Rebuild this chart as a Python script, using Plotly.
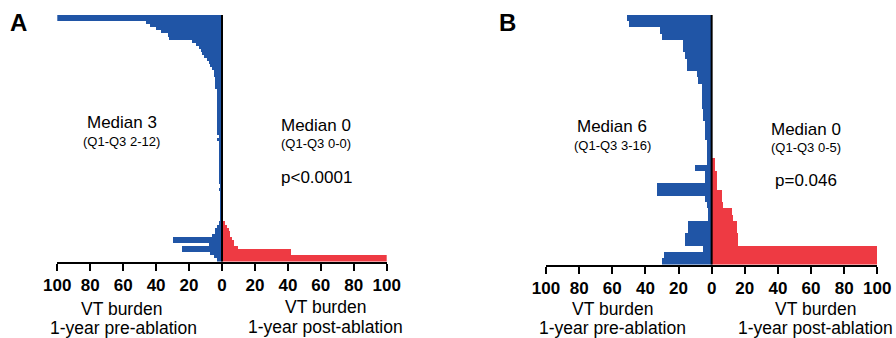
import plotly.graph_objects as go

# ---------------- DATA ----------------
# Panel A: one row per patient (top -> bottom), VT burden (%)
a_pre = [100, 100, 46, 44, 40, 37, 33, 32, 18, 16, 14, 13, 12, 11, 9, 8, 7, 6, 5, 5,
         4, 4, 4, 4, 3, 3, 3, 3, 3, 3, 3,
         3, 3, 3, 3, 3, 3, 3, 3, 2, 3, 2, 2, 2, 2, 2, 2, 2, 2, 2, 2, 2, 2, 2,
         2, 1, 2, 1, 1, 1, 1, 1, 1, 1, 1, 1, 1,
         2, 3, 4, 4, 6, 30, 30, 8, 24, 24, 7, 5, 3]
a_post = [0] * 67 + [2, 3, 4, 5, 5, 6, 7, 7, 10, 42, 42, 100, 100]

# Panel B
b_pre = [51, 50, 31, 30, 17, 17, 16, 15, 15, 9, 8, 6, 6, 6, 6, 5, 5, 4, 4, 4,
         3, 3, 3, 3, 10, 4, 4, 33, 33, 4, 3, 2, 2, 14, 14, 16, 16, 5, 29, 30]
b_post = [0] * 23 + [2, 2, 3, 3, 3, 6, 6, 7, 12, 13, 15, 15, 16, 16, 100, 100, 100]

tick_vals = [-100, -80, -60, -40, -20, 0, 20, 40, 60, 80, 100]
tick_text = ["100", "80", "60", "40", "20", "0", "20", "40", "60", "80", "100"]

BLUE = "#2055a6"
RED = "#ee3a43"
W, H = 896, 338


def px(x):
    return x / W


def py(y):
    return 1 - y / H


fig = go.Figure()

for pre, post, xa, ya in [(a_pre, a_post, "x", "y"), (b_pre, b_post, "x2", "y2")]:
    rows = list(range(len(pre)))
    fig.add_trace(go.Bar(y=rows, x=[-v for v in pre], orientation="h",
                         marker=dict(color=BLUE, line=dict(width=0)),
                         xaxis=xa, yaxis=ya, showlegend=False, hoverinfo="skip"))
    fig.add_trace(go.Bar(y=rows, x=post, orientation="h",
                         marker=dict(color=RED, line=dict(width=0)),
                         xaxis=xa, yaxis=ya, showlegend=False, hoverinfo="skip"))

xcommon = dict(range=[-100, 100], tickvals=tick_vals, ticktext=tick_text,
               showline=True, linecolor="black", linewidth=2,
               ticks="outside", ticklen=7, tickwidth=2, tickcolor="black",
               showgrid=False, zeroline=False, fixedrange=True, automargin=False,
               ticklabeloverflow="allow",
               tickfont=dict(family="Liberation Sans, Arial", size=17,
                             color="black", weight="bold"))

fig.update_layout(
    width=W, height=H,
    margin=dict(l=0, r=0, t=0, b=0, pad=0, autoexpand=False),
    paper_bgcolor="white", plot_bgcolor="white",
    barmode="overlay", bargap=0, showlegend=False,
    xaxis=dict(domain=[px(57.3), px(386.7)], anchor="y", **xcommon),
    yaxis=dict(domain=[py(261.5), py(15)], anchor="x", visible=False,
               range=[len(a_pre) - 0.5, -0.5], fixedrange=True),
    xaxis2=dict(domain=[px(546), px(877.3)], anchor="y2", **xcommon),
    yaxis2=dict(domain=[py(264.5), py(15)], anchor="x2", visible=False,
                range=[len(b_pre) - 0.5, -0.5], fixedrange=True),
    font=dict(family="Liberation Sans, Arial", color="black"),
)

# zero lines
for xr, yr in [("x", "y domain"), ("x2", "y2 domain")]:
    fig.add_shape(type="line", xref=xr, yref=yr, x0=0, x1=0, y0=0, y1=1,
                  line=dict(color="black", width=2), layer="above")


def ann(text, x, y, size, bold=False):
    fig.add_annotation(text=text, x=px(x), y=py(y), xref="paper", yref="paper",
                       xanchor="center", yanchor="middle", showarrow=False,
                       font=dict(size=size, color="black",
                                 family="Liberation Sans, Arial",
                                 weight="bold" if bold else "normal"))


# panel letters
ann("A", 18, 22, 24, True)
ann("B", 507, 22, 24, True)

# panel A texts
ann("Median 3", 122, 122, 17)
ann("(Q1-Q3 2-12)", 122, 142, 13)
ann("Median 0", 316, 125, 17)
ann("(Q1-Q3 0-0)", 316, 144, 13)
ann("p<0.0001", 316, 177, 17)
ann("VT burden", 122, 309, 17.5)
ann("1-year pre-ablation", 123, 328, 17.5)
ann("VT burden", 325, 307, 17.5)
ann("1-year post-ablation", 325, 327, 17.5)

# panel B texts
ann("Median 6", 612, 126, 17)
ann("(Q1-Q3 3-16)", 612, 145, 13)
ann("Median 0", 806, 129, 17)
ann("(Q1-Q3 0-5)", 806, 147, 13)
ann("p=0.046", 806, 180, 17)
ann("VT burden", 612, 309, 17.5)
ann("1-year pre-ablation", 612, 328, 17.5)
ann("VT burden", 815, 309, 17.5)
ann("1-year post-ablation", 815, 328, 17.5)

fig.write_html(
    "out.html",
    config={"displayModeBar": False, "staticPlot": True},
    post_script="document.body.style.margin='0';document.body.style.overflow='hidden';",
)
